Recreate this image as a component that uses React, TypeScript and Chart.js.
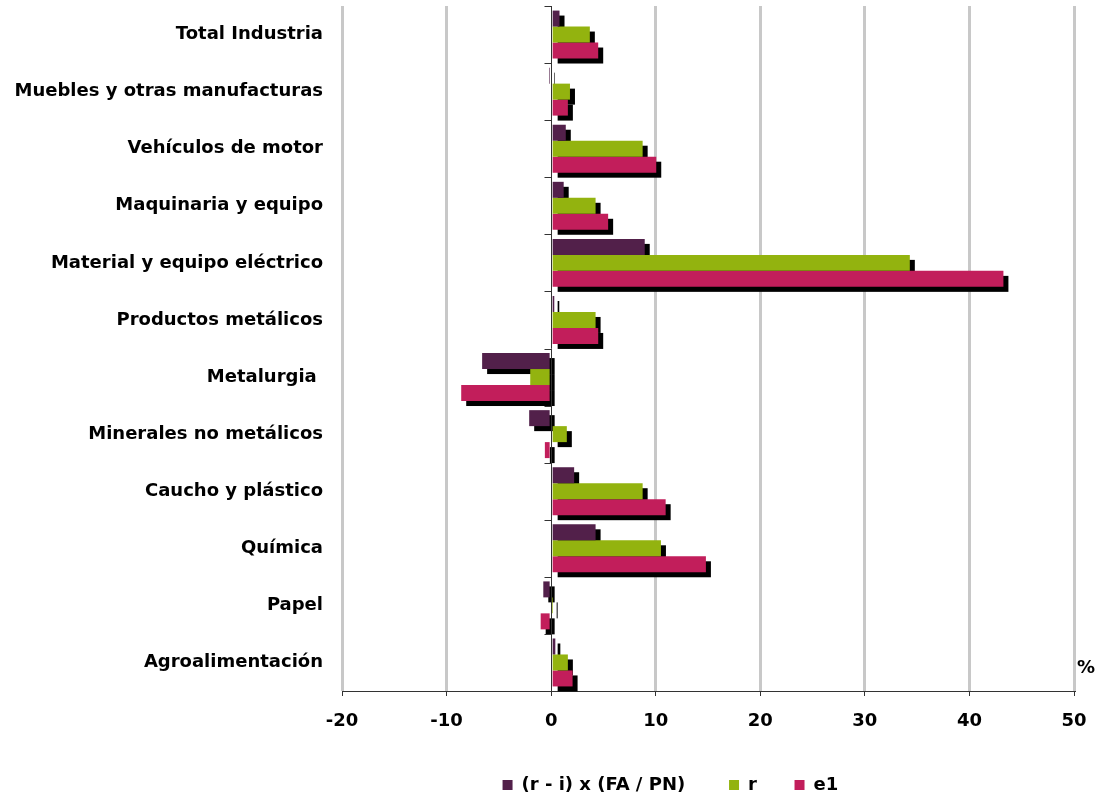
import React, { useEffect, useRef } from "react";
import { Chart, registerables } from "chart.js";

Chart.register(...registerables);

const categories = [
  "Total Industria",
  "Muebles y otras manufacturas",
  "Vehículos de motor",
  "Maquinaria y equipo",
  "Material y equipo eléctrico",
  "Productos metálicos",
  "Metalurgia ",
  "Minerales no metálicos",
  "Caucho y plástico",
  "Química",
  "Papel",
  "Agroalimentación",
];

const seriesRI = [0.8, -0.2, 1.4, 1.2, 8.95, 0.3, -6.6, -2.1, 2.2, 4.25, -0.75, 0.4];
const seriesR = [3.7, 1.8, 8.75, 4.25, 34.3, 4.25, -2.0, 1.5, 8.75, 10.5, 0.05, 1.6];
const seriesE1 = [4.5, 1.6, 10.05, 5.45, 43.25, 4.5, -8.6, -0.6, 10.95, 14.8, -1.0, 2.05];

const seriesNames = ["(r - i) x (FA / PN)", "r", "e1"];
const legendGaps = ["       ", "      ", "            "];
const xTicks = [-20, -10, 0, 10, 20, 30, 40, 50];
const unitLabel = "%";

const COLORS = ["#52204a", "#93b30f", "#c21e5b"];

const LABEL_FONT = "'DejaVu Sans', sans-serif";

const shadowPlugin = {
  id: "barShadow",
  beforeDatasetsDraw(chart: any) {
    const ctx = chart.ctx;
    ctx.save();
    ctx.fillStyle = "#000000";
    chart.data.datasets.forEach((_: any, i: number) => {
      const meta = chart.getDatasetMeta(i);
      meta.data.forEach((el: any) => {
        const left = Math.min(el.x, el.base);
        const right = Math.max(el.x, el.base);
        const top = el.y - el.height / 2;
        ctx.fillRect(left + 5, top + 5, right - left, el.height);
      });
    });
    ctx.restore();
  },
  afterDatasetsDraw(chart: any) {
    const ctx = chart.ctx;
    const xs = chart.scales.x;
    const ys = chart.scales.y;
    const x0 = Math.round(xs.getPixelForValue(0)) + 0.5;
    ctx.save();
    ctx.strokeStyle = "#333333";
    ctx.lineWidth = 1;
    ctx.beginPath();
    ctx.moveTo(x0, ys.top);
    ctx.lineTo(x0, ys.bottom);
    const n = chart.data.labels.length;
    const step = (ys.bottom - ys.top) / n;
    for (let i = 0; i <= n; i++) {
      const y = Math.round(ys.top + i * step) + 0.5;
      ctx.moveTo(x0 - 7, y);
      ctx.lineTo(x0, y);
    }
    ctx.stroke();
    ctx.fillStyle = "#000000";
    ctx.font = "bold 18px " + LABEL_FONT;
    ctx.textAlign = "left";
    ctx.textBaseline = "middle";
    ctx.fillText(unitLabel, xs.right + 3, ys.bottom - 23);
    ctx.restore();
  },
};

export default function App() {
  const ref = useRef<HTMLCanvasElement | null>(null);
  useEffect(() => {
    document.body.style.margin = "0";
    const canvas = ref.current;
    if (!canvas) return;
    const datasets = [seriesRI, seriesR, seriesE1].map((d, i) => ({
      label: seriesNames[i] + legendGaps[i],
      data: d,
      backgroundColor: COLORS[i],
      borderWidth: 0,
      barPercentage: 1,
      categoryPercentage: 0.84,
    }));
    const chart = new Chart(canvas, {
      type: "bar",
      data: { labels: categories, datasets },
      plugins: [shadowPlugin],
      options: {
        indexAxis: "y",
        animation: false,
        responsive: false,
        maintainAspectRatio: false,
        layout: { padding: { top: 6, right: 31, left: 0, bottom: -6 } },
        plugins: {
          tooltip: { enabled: false },
          legend: {
            position: "bottom",
            fullSize: false,
            labels: {
              boxWidth: 10,
              boxHeight: 10,
              padding: 0,
              color: "#000000",
              font: { family: LABEL_FONT, size: 18, weight: "bold" },
            },
          },
        },
        scales: {
          x: {
            type: "linear",
            min: -20,
            max: 50,
            afterBuildTicks(scale: any) {
              scale.ticks = xTicks.map((v) => ({ value: v }));
            },
            afterFit(scale: any) {
              scale.height = 85;
            },
            grid: {
              color: (c: any) => (c.tick && c.tick.value === 0 ? "rgba(0,0,0,0)" : "#c8c8c8"),
              lineWidth: 3,
              drawTicks: true,
              tickLength: 5,
              tickColor: "#333333",
              tickWidth: 1,
            },
            border: { display: true, color: "#333333", width: 1 },
            ticks: {
              color: "#000000",
              padding: 15,
              font: { family: LABEL_FONT, size: 18, weight: "bold" },
            },
          },
          y: {
            type: "category",
            afterFit(scale: any) {
              scale.width = 342;
              scale.paddingTop = 0;
              scale.paddingBottom = 0;
            },
            grid: { display: false },
            border: { display: false },
            ticks: {
              color: "#000000",
              padding: 11,
              autoSkip: false,
              font: { family: LABEL_FONT, size: 18, weight: "bold" },
            },
          },
        },
      },
    } as any);
    return () => chart.destroy();
  }, []);
  return (
    <div style={{ width: 1105, height: 798 }}>
      <canvas ref={ref} width={1105} height={798} style={{ display: "block" }} />
    </div>
  );
}
